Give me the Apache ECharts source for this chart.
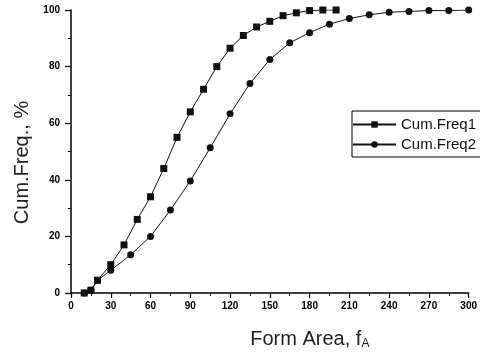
<!DOCTYPE html>
<html>
<head>
<meta charset="utf-8">
<script src="https://cdn.jsdelivr.net/npm/echarts@6/dist/echarts.min.js"></script>
<style>
  html, body { margin: 0; padding: 0; background: #fff; }
  #main { width: 480px; height: 355px; }
</style>
</head>
<body>
<div id="main"></div>
<script>
// 累积频率数据
var freq1X = [10, 15, 20, 30, 40, 50, 60, 70, 80, 90, 100, 110, 120, 130, 140, 150, 160, 170, 180, 190, 200];
var freq1Y = [0, 1, 4.5, 10, 17, 26, 34, 44, 55, 64, 72, 80, 86.5, 91, 94, 96, 98, 99, 99.8, 100, 100];

var freq2X = [10, 15, 20, 30, 45, 60, 75, 90, 105, 120, 135, 150, 165, 180, 195, 210, 225, 240, 255, 270, 285, 300];
var freq2Y = [0, 1, 4.5, 8, 13.5, 20, 29.3, 39.6, 51.3, 63.3, 74, 82.5, 88.4, 92, 95, 97, 98.3, 99.2, 99.5, 99.8, 99.8, 100];

var seriesNames = ['Cum.Freq1', 'Cum.Freq2'];

var toPairs = function(xs, ys) {
    var res = [];
    for (var i = 0; i < xs.length; i++) {
        res.push([xs[i], ys[i]]);
    }
    return res;
};

var myChart = echarts.init(document.getElementById('main'));

var tickFont = {
    color: '#000',
    fontSize: 10,
    fontWeight: 'bold',
    fontFamily: '"Liberation Sans Narrow", "Arial Narrow", "Liberation Sans", sans-serif'
};

option = {
    backgroundColor: '#ffffff',
    animation: false,
    grid: {
        left: 71,
        right: 6,
        top: 10,
        bottom: 59
    },
    legend: {
        orient: 'vertical',
        left: 352,
        top: 111,
        data: seriesNames,
        borderColor: '#000',
        borderWidth: 1,
        padding: [6, 10, 5, 0],
        itemWidth: 43,
        itemHeight: 8,
        itemGap: 5,
        textStyle: {
            color: '#111',
            fontSize: 15,
            fontFamily: '"Liberation Sans", Arial, sans-serif'
        }
    },
    xAxis: {
        type: 'value',
        min: 0,
        max: 300,
        interval: 30,
        name: 'Form Area, f{sub|A}',
        nameLocation: 'middle',
        nameGap: 36,
        nameTextStyle: {
            color: '#222',
            fontSize: 20,
            fontFamily: '"Liberation Sans", Arial, sans-serif',
            padding: [0, 0, 0, 80],
            rich: {
                sub: {
                    fontSize: 12,
                    verticalAlign: 'bottom',
                    padding: [9, 0, 0, 0],
                    color: '#222'
                }
            }
        },
        axisLine: { lineStyle: { color: '#000', width: 1.5 } },
        axisTick: { length: 5, lineStyle: { color: '#000', width: 1.2 } },
        minorTick: { show: true, splitNumber: 2, length: 3, lineStyle: { color: '#000' } },
        splitLine: { show: false },
        axisLabel: Object.assign({ margin: 8 }, tickFont)
    },
    yAxis: {
        type: 'value',
        min: 0,
        max: 100,
        interval: 20,
        name: 'Cum.Freq., %',
        nameLocation: 'middle',
        nameRotate: 90,
        nameGap: 36,
        nameTextStyle: {
            color: '#222',
            fontSize: 20,
            fontFamily: '"Liberation Sans", Arial, sans-serif',
            padding: [0, 22, 0, 0]
        },
        axisLine: { show: true, lineStyle: { color: '#000', width: 1.5 } },
        axisTick: { show: true, length: 6, lineStyle: { color: '#000', width: 1.2 } },
        minorTick: { show: true, splitNumber: 2, length: 3, lineStyle: { color: '#000' } },
        splitLine: { show: false },
        axisLabel: Object.assign({ margin: 11 }, tickFont)
    },
    series: [{
        name: seriesNames[0],
        type: 'line',
        data: toPairs(freq1X, freq1Y),
        symbol: 'rect',
        symbolSize: 7,
        lineStyle: { color: '#111', width: 1 },
        itemStyle: { color: '#111' }
    }, {
        name: seriesNames[1],
        type: 'line',
        data: toPairs(freq2X, freq2Y),
        symbol: 'circle',
        symbolSize: 7,
        lineStyle: { color: '#111', width: 1 },
        itemStyle: { color: '#111' }
    }]
};

myChart.setOption(option);
</script>
</body>
</html>
